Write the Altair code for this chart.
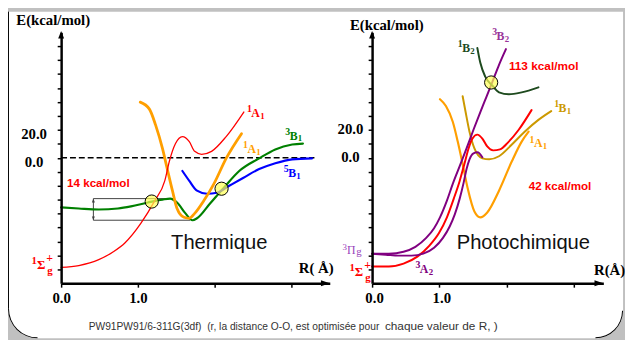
import math
import altair as alt
import pandas as pd

# ---------------- colours / fonts ----------------
RED = "#FF0000"
ORANGE = "#FF9F00"
GREEN = "#008000"
BLUE = "#0000FF"
PURPLE = "#800080"
LPURPLE = "#993399"
PIPURPLE = "#9944BB"
GOLD = "#CC9900"
DKGREEN = "#1E4A1E"
SERIF = "Liberation Serif"
SANS = "Liberation Sans"

# ================= LEFT PANEL (Thermique) =================
L_RED_R = [0.0, 0.23, 0.49, 0.68, 0.83, 1.04, 1.22, 1.35, 1.41, 1.49, 1.58, 1.67, 1.74, 1.83, 1.96, 2.15, 2.38]
L_RED_E = [-78.7, -77.3, -73.1, -67.4, -61.1, -46.9, -30.7, -16.6, -2.5, 10.2, 15.2, 11.6, 4.6, 2.5, 4.6, 15.2, 32.8]

L_ORA_R = [1.03, 1.15, 1.23, 1.32, 1.38, 1.45, 1.51, 1.60, 1.67, 1.74, 1.86, 1.99, 2.15, 2.35]
L_ORA_E = [39.9, 34.9, 23.6, 6.7, -7.4, -23.6, -36.4, -42.7, -43.4, -39.9, -30.7, -18.7, -0.4, 17.3]

L_GRN_R = [0.0, 0.23, 0.49, 0.74, 0.91, 1.13, 1.32, 1.42, 1.51, 1.62, 1.71, 1.77, 1.94, 2.12, 2.32, 2.58, 2.79, 3.01, 3.15]
L_GRN_E = [-35.6, -36.4, -37.1, -36.4, -34.9, -32.1, -30.0, -29.3, -32.1, -39.9, -44.8, -43.4, -32.8, -21.5, -9.5, -0.4, 6.0, 9.5, 10.2]

L_BLU_R = [1.58, 1.67, 1.77, 1.90, 2.03, 2.19, 2.37, 2.58, 2.79, 3.01, 3.27]
L_BLU_E = [-9.5, -16.6, -23.6, -25.8, -25.1, -20.1, -14.5, -8.1, -3.9, -1.1, -0.4]

L_CROSS_R = [1.18, 2.09]
L_CROSS_E = [-31.4, -22.2]

L_DASH_R = [0.0, 3.3]
L_DASH_E = [0.0]

BRACKET_R0 = 0.42
BRACKET_TOP = (1.47, -29.3)
BRACKET_BOT = (1.68, -44.8)

L_LAB_R = [2.42, 2.37, 2.92, 2.90]
L_LAB_E = [29.3, 3.2, 13.1, -13.8]
L_LAB_SUP = ["1", "1", "3", "5"]
L_LAB_MAIN = ["A", "A", "B", "B"]
L_LAB_SUB = ["1", "1", "1", "1"]
L_LAB_COL = [RED, ORANGE, GREEN, BLUE]
L_SIGMA = (-0.385, -80.1)

L_TXT_14 = ("14 kcal/mol", 0.077, -18.4)
L_TXT_TH = ("Thermique", 2.06, -61.0)

# ================= RIGHT PANEL (Photochimique) =================
R_PUL_R = [0.0, 0.249, 0.468, 0.644, 0.805, 0.922, 1.010, 1.113, 1.200, 1.303, 1.405, 1.508, 1.610, 1.698, 1.786, 1.888, 1.991]
R_PUL_E = [-68.8, -68.8, -67.4, -63.9, -57.5, -50.5, -42.7, -30.7, -18.7, -6.0, 6.7, 20.1, 32.8, 43.4, 54.0, 66.7, 78.0]

R_RED_R = [0.0, 0.249, 0.468, 0.673, 0.849, 0.995, 1.113, 1.215, 1.303, 1.376, 1.435, 1.493, 1.566, 1.640, 1.713, 1.801, 1.903, 2.020, 2.181, 2.372]
R_RED_E = [-78.0, -78.0, -75.9, -70.9, -63.2, -54.0, -42.7, -29.3, -16.6, -3.9, 6.7, 13.8, 16.6, 13.8, 8.1, 5.3, 6.0, 10.9, 20.1, 34.2]

R_PUR_R = [0.0, 0.205, 0.395, 0.586, 0.761, 0.922, 1.054, 1.156, 1.230, 1.303, 1.361, 1.405, 1.449, 1.508, 1.566, 1.640]
R_PUR_E = [-68.8, -69.5, -70.2, -70.2, -68.8, -64.6, -57.5, -49.1, -40.6, -29.3, -18.0, -8.1, -1.1, 3.2, 3.9, 0.4]

R_GLD_R = [1.347, 1.391, 1.449, 1.522, 1.640, 1.742, 1.888, 2.079, 2.269, 2.474, 2.664]
R_GLD_E = [44.1, 32.8, 18.7, 6.7, -0.4, -1.1, 1.1, 9.5, 18.7, 27.2, 33.5]

R_ORA_R = [1.010, 1.098, 1.200, 1.274, 1.347, 1.420, 1.522, 1.610, 1.713, 1.888, 2.079, 2.225, 2.328]
R_ORA_E = [42.0, 37.1, 25.8, 11.6, -4.6, -21.5, -38.5, -42.7, -39.2, -23.6, -2.5, 11.6, 18.7]

R_DGR_R = [1.566, 1.610, 1.683, 1.786, 1.888, 2.035, 2.225, 2.474]
R_DGR_E = [78.7, 68.1, 58.2, 51.9, 46.9, 45.5, 46.9, 50.5]

R_CROSS_R = [1.771]
R_CROSS_E = [54.0]

R_LAB_R = [1.786, 1.274, 2.708, 2.342, 0.644]
R_LAB_E = [84.4, 75.9, 32.8, 7.4, -82.9]
R_LAB_SUP = ["3", "1", "1", "1", "3"]
R_LAB_MAIN = ["B", "B", "B", "A", "A"]
R_LAB_SUB = ["2", "2", "1", "1", "2"]
R_LAB_COL = [LPURPLE, DKGREEN, GOLD, ORANGE, PURPLE]
R_PI = (-0.439, -68.8)
R_SIGMA = (-0.337, -85.1)

R_TXT_113 = ("113 kcal/mol", 2.035, 65.6)
R_TXT_42 = ("42 kcal/mol", 2.33, -20.5)
R_TXT_PH = ("Photochimique", 2.25, -61.0)

FOOTER_A = "PW91PW91/6-311G(3df)\u00a0 (r, la distance O-O, est optimisée pour"
FOOTER_B = "chaque valeur de R, )"

X_TICKS = [0, 1, 2, 3]
Y_TICKS = list(range(-80, 90, 10))


# ---------------- axes ----------------
def xaxis(titleX, titleY, title, loff=0):
    return alt.Axis(values=X_TICKS,
                    labelExpr="datum.value <= 1 ? format(datum.value, '.1f') : ''",
                    domainColor="black", domainWidth=2.5, tickColor="black", tickWidth=1.5,
                    tickSize=4, labelFont=SERIF, labelFontWeight="bold", labelFontSize=15,
                    labelColor="black", labelBaseline="middle", labelPadding=11,
                    labelOffset=loff,
                    labelAlign="center", labelFlush=False, labelOverlap=False, grid=False,
                    zindex=1, title=title, titleFont=SERIF, titleFontWeight="bold",
                    titleFontSize=15, titleColor="black", titleX=titleX, titleY=titleY,
                    titleAlign="left", titleBaseline="middle", titleAngle=0)


def yaxis(titleX, titleY, lp, loff):
    return alt.Axis(values=Y_TICKS,
                    labelExpr="(datum.value == 0 || datum.value == 20) ? format(datum.value, '.1f') : ''",
                    domainColor="black", domainWidth=2.5, tickColor="black", tickWidth=1.5,
                    tickSize=4, labelFont=SERIF, labelFontWeight="bold", labelFontSize=15,
                    labelColor="black", labelBaseline="middle", labelPadding=lp,
                    labelOffset=loff, labelAlign="center", labelFlush=False, labelOverlap=False,
                    grid=False, zindex=1, title="E(kcal/mol)", titleFont=SERIF,
                    titleFontWeight="bold", titleFontSize=15, titleColor="black",
                    titleX=titleX, titleY=titleY, titleAlign="left", titleBaseline="middle",
                    titleAngle=0)


class Panel:
    def __init__(self, xdom, xa, ya):
        self.xs = alt.Scale(domain=xdom, nice=False, zero=False)
        self.ys = alt.Scale(domain=[-90, 90], nice=False, zero=False)
        self.xa = xa
        self.ya = ya

    def X(self, f="R"):
        return alt.X(f"{f}:Q", scale=self.xs, axis=self.xa)

    def Y(self, f="E"):
        return alt.Y(f"{f}:Q", scale=self.ys, axis=self.ya)


PL = Panel([0, 3.5], xaxis(241, -16, "R( \u00c5)"), yaxis(-46, -13, 24, 3.5))
PR = Panel([0, 3.44], xaxis(225, -14, "R(\u00c5)", loff=2), yaxis(-23, -8, 18.5, -1))


def curve(P, R, E, color, width):
    df = pd.DataFrame({"R": R, "E": E, "i": list(range(len(R)))})
    return alt.Chart(df).mark_line(color=color, strokeWidth=width, interpolate="monotone",
                                   strokeCap="round").encode(x=P.X(), y=P.Y(), order="i:Q")


def text_at(P, R, E, txt, size, color, dx=0, dy=0, align="left", baseline="alphabetic",
            font=SERIF, weight="bold"):
    df = pd.DataFrame({"R": [R], "E": [E], "t": [txt]})
    return alt.Chart(df).mark_text(align=align, baseline=baseline, dx=dx, dy=dy, fontSize=size,
                                   font=font, fontWeight=weight, color=color).encode(
        x=P.X(), y=P.Y(), text="t:N")


MAIN_W = {"A": 8.7, "B": 8.0}


def state_label(P, R, E, sup, main, sub, color):
    w = MAIN_W[main]
    return [text_at(P, R, E, sup, 10, color, dx=0, dy=-5),
            text_at(P, R, E, main, 12, color, dx=4.5),
            text_at(P, R, E, sub, 9, color, dx=4.5 + w + 0.3, dy=2)]


def sigma_label(P, R, E):
    return [text_at(P, R, E, "1", 11, RED, dy=-6),
            text_at(P, R, E, "\u03a3", 13, RED, dx=5.5),
            text_at(P, R, E, "+", 12, RED, dx=15, dy=-8),
            text_at(P, R, E, "g", 11, RED, dx=16, dy=5)]


def pi_label(P, R, E):
    return [text_at(P, R, E, "3", 9, PIPURPLE, dy=-4, weight="normal"),
            text_at(P, R, E, "\u03a0", 12, PIPURPLE, dx=4.5, weight="normal"),
            text_at(P, R, E, "g", 11, PIPURPLE, dx=14, dy=1, weight="normal")]


ARROW_UP = "M0,0L-1,2.6L1,2.6Z"
ARROW_DOWN = "M0,0L-1,-2.6L1,-2.6Z"
ARROW_RIGHT = "M0,0L-3,-1L-3,1Z"


def arrow(P, R, E, shape, size, color="black"):
    df = pd.DataFrame({"R": [R], "E": [E]})
    return alt.Chart(df).mark_point(shape=shape, size=size, filled=True, color=color, opacity=1,
                                    strokeWidth=0).encode(x=P.X(), y=P.Y())


def crosses(P, R, E):
    df = pd.DataFrame({"R": R, "E": E})
    return alt.Chart(df).mark_point(shape="circle", size=180, filled=True, color="#FFFF55",
                                    fillOpacity=0.7, stroke="black", strokeWidth=1,
                                    opacity=1).encode(x=P.X(), y=P.Y())


def hrules(P, R, R2, E, color, width, dash=None):
    df = pd.DataFrame({"R": R, "R2": R2, "E": E})
    kw = dict(color=color, strokeWidth=width)
    if dash:
        kw["strokeDash"] = dash
    return alt.Chart(df).mark_rule(**kw).encode(x=P.X(), x2="R2:Q", y=P.Y())


one = pd.DataFrame({"a": [0]})

# ---------------- left panel layers ----------------
L = []
# slide frame (decoration, pixel placed)
L.append(alt.Chart(one).mark_rect(fill="white", cornerRadiusBottomLeft=30,
                                  cornerRadiusBottomRight=28, strokeWidth=0).encode(
    x=alt.value(-54), x2=alt.value(571), y=alt.value(-21), y2=alt.value(311)))
L.append(alt.Chart(one).mark_arc(theta=math.pi, theta2=1.5 * math.pi, innerRadius=29,
                                 outerRadius=30, color="black").encode(
    x=alt.value(-24), y=alt.value(281)))
L.append(alt.Chart(one).mark_arc(theta=0.5 * math.pi, theta2=math.pi, innerRadius=27,
                                 outerRadius=28, color="black").encode(
    x=alt.value(543), y=alt.value(283)))
L.append(alt.Chart(one).mark_rule(color="black", strokeWidth=1).encode(
    x=alt.value(-53.5), y=alt.value(-21), y2=alt.value(281)))
L.append(alt.Chart(pd.DataFrame({"t": [FOOTER_A]})).mark_text(
    align="left", baseline="middle", font=SANS, fontSize=10.4, color="#333333").encode(
    x=alt.value(28), y=alt.value(299.5), text="t:N"))
L.append(alt.Chart(pd.DataFrame({"t": [FOOTER_B]})).mark_text(
    align="left", baseline="middle", font=SANS, fontSize=12, color="#333333").encode(
    x=alt.value(329), y=alt.value(299), text="t:N"))

L.append(hrules(PL, [L_DASH_R[0]], [L_DASH_R[1]], L_DASH_E, "black", 1.5, [6, 3]))
L.append(hrules(PL, [BRACKET_R0, BRACKET_R0], [BRACKET_TOP[0], BRACKET_BOT[0]],
                [BRACKET_TOP[1], BRACKET_BOT[1]], "#404040", 1))
brv_df = pd.DataFrame({"R": [BRACKET_R0], "E": [BRACKET_TOP[1]], "E2": [BRACKET_BOT[1]]})
L.append(alt.Chart(brv_df).mark_rule(color="#404040", strokeWidth=1).encode(
    x=PL.X(), y=PL.Y(), y2="E2:Q"))
L.append(arrow(PL, BRACKET_R0, BRACKET_TOP[1], ARROW_UP, 9, "#404040"))
L.append(arrow(PL, BRACKET_R0, BRACKET_BOT[1], ARROW_DOWN, 9, "#404040"))

L.append(curve(PL, L_GRN_R, L_GRN_E, GREEN, 2.2))
L.append(curve(PL, L_BLU_R, L_BLU_E, BLUE, 2.2))
L.append(curve(PL, L_ORA_R, L_ORA_E, ORANGE, 2.8))
L.append(curve(PL, L_RED_R, L_RED_E, RED, 1.3))
L.append(crosses(PL, L_CROSS_R, L_CROSS_E))

for r, e, s, m, b, c in zip(L_LAB_R, L_LAB_E, L_LAB_SUP, L_LAB_MAIN, L_LAB_SUB, L_LAB_COL):
    L += state_label(PL, r, e, s, m, b, c)
L += sigma_label(PL, L_SIGMA[0], L_SIGMA[1])

L.append(text_at(PL, L_TXT_14[1], L_TXT_14[2], L_TXT_14[0], 11.8, RED,
                 baseline="middle", font=SANS))
L.append(text_at(PL, L_TXT_TH[1], L_TXT_TH[2], L_TXT_TH[0], 20.5, "#111111",
                 align="center", baseline="middle", font=SANS, weight="normal"))

L.append(arrow(PL, 0, 91, ARROW_UP, 36))
L.append(arrow(PL, 3.5, -90, ARROW_RIGHT, 36))

# ---------------- right panel layers ----------------
Rl = []
Rl.append(curve(PR, R_ORA_R, R_ORA_E, ORANGE, 2.2))
Rl.append(curve(PR, R_GLD_R, R_GLD_E, GOLD, 2.0))
Rl.append(curve(PR, R_RED_R, R_RED_E, RED, 2.0))
Rl.append(curve(PR, R_PUR_R, R_PUR_E, PURPLE, 2.0))
Rl.append(curve(PR, R_PUL_R, R_PUL_E, PURPLE, 2.0))
Rl.append(curve(PR, R_DGR_R, R_DGR_E, DKGREEN, 2.0))
Rl.append(crosses(PR, R_CROSS_R, R_CROSS_E))

for r, e, s, m, b, c in zip(R_LAB_R, R_LAB_E, R_LAB_SUP, R_LAB_MAIN, R_LAB_SUB, R_LAB_COL):
    Rl += state_label(PR, r, e, s, m, b, c)
Rl += pi_label(PR, R_PI[0], R_PI[1])
Rl += sigma_label(PR, R_SIGMA[0], R_SIGMA[1])

Rl.append(text_at(PR, R_TXT_113[1], R_TXT_113[2], R_TXT_113[0], 12, RED,
                  baseline="middle", font=SANS))
Rl.append(text_at(PR, R_TXT_42[1], R_TXT_42[2], R_TXT_42[0], 11.8, RED,
                  baseline="middle", font=SANS))
Rl.append(text_at(PR, R_TXT_PH[1], R_TXT_PH[2], R_TXT_PH[0], 20.5, "#111111",
                  align="center", baseline="middle", font=SANS, weight="normal"))

Rl.append(arrow(PR, 0, 91, ARROW_UP, 36))
Rl.append(arrow(PR, 3.44, -90, ARROW_RIGHT, 36))

left = alt.layer(*L).properties(width=273, height=255)
right = alt.layer(*Rl).properties(width=235, height=255)

chart = alt.hconcat(left, right, spacing=43, bounds="flush").properties(
    background="#C0C0C0", padding=0).configure_view(strokeWidth=0)

chart.save("out.html", embed_options={"renderer": "svg", "actions": False})
